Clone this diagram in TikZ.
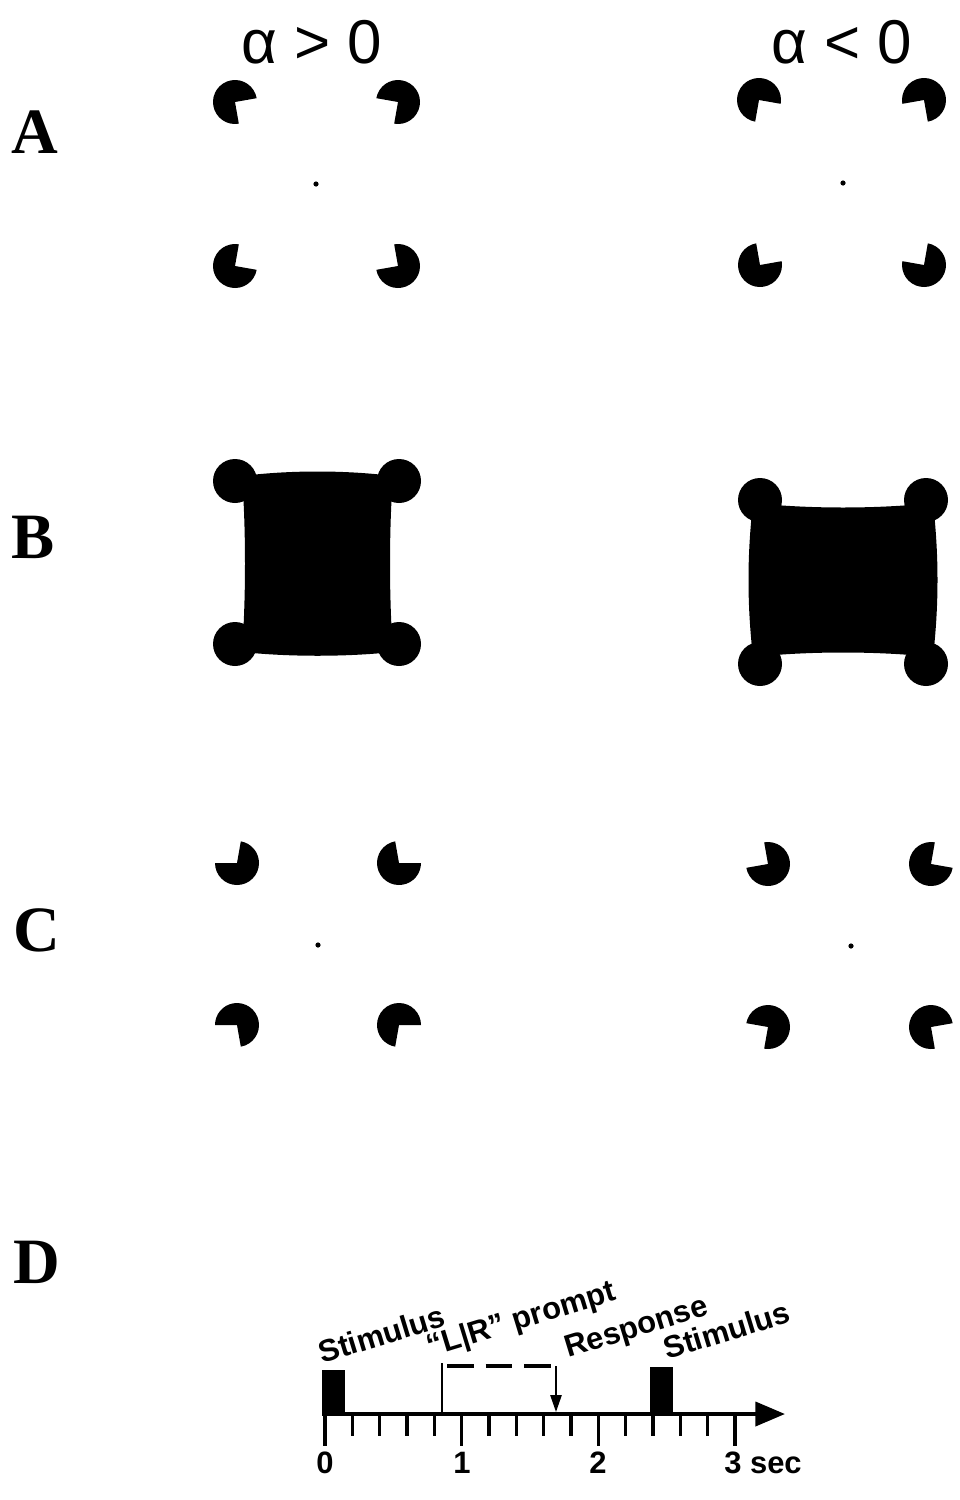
\documentclass[tikz,border=0pt]{standalone}
\usepackage{fontspec}
\setmainfont{Liberation Serif}
\newfontfamily\sansfont{Liberation Sans}
\usetikzlibrary{arrows.meta}
\tikzset{
panellabel/.style={
inner sep=0pt,
font=\fontsize{46}{46}\selectfont\bfseries
},
header/.style={
inner sep=0pt,
font=\sansfont\fontsize{44}{44}\selectfont
},
eventlabel/.style={
inner sep=0pt,
anchor=base west,
rotate=17,
font=\sansfont\bfseries\fontsize{22}{22}\selectfont
},
ticklabel/.style={
inner sep=0pt,
anchor=base,
font=\sansfont\bfseries\fontsize{22}{22}\selectfont
},
timeaxis/.style={
line width=2.8pt,
-{Triangle[length=21pt,width=17pt]}
},
ticks/.style={
line width=2.2pt
},
responsearrow/.style={
line width=1.2pt,
-{Triangle[length=12pt,width=8pt]}
}
}

\begin{document}
\begin{tikzpicture}[x=0.025cm,y=0.025cm]
\useasboundingbox (0,0) rectangle (960,-1500);

% row labels and headers
\node[panellabel](labA) at (35,-132){A};
\node[panellabel](labB) at (33,-537){B};
\node[panellabel](labC) at (37,-930){C};
\node[panellabel](labD) at (37,-1262){D};
\node[header](hpos) at (312,-42){α > 0};
\node[header](hneg) at (842,-42){α < 0};

% inducers: x/y/mouth start/mouth end
\foreach \x/\y/\a/\b in {
235/102/-80/10, 398/102/170/260, 235/266/-10/80, 398/266/100/190,
759/100/-100/-10, 924/100/190/280, 760/265/10/100, 924/265/80/170,
237/863/80/180, 399/863/0/100, 237/1025/180/280, 399/1025/260/360,
768/864/100/190, 931/864/-10/80, 768/1027/170/260, 931/1027/280/370}
{
\pgfmathsetmacro\e{\a+360}
\fill (\x,-\y) -- ++(\b:22) arc[start angle=\b, end angle=\e, radius=22] -- cycle;
}

% fixation points
\foreach \x/\y in {316/184,843/183,318/945,851/946}
\fill (\x,-\y) circle[radius=2.6];

% filled squares
\foreach \x/\y in {235/481,399/481,235/644,399/644,760/500,926/500,760/664,926/664}
\fill (\x,-\y) circle[radius=22];
\fill (242,-476) .. controls (290,-470) and (345,-470) .. (393,-476)
  .. controls (389,-530) and (389,-597) .. (393,-652)
  .. controls (345,-657) and (290,-657) .. (242,-652)
  .. controls (246,-597) and (246,-530) .. (242,-476) -- cycle;
\fill (753,-503) .. controls (810,-509) and (876,-509) .. (933,-503)
  .. controls (939,-555) and (939,-605) .. (933,-657)
  .. controls (876,-651) and (810,-651) .. (753,-657)
  .. controls (747,-605) and (747,-555) .. (753,-503) -- cycle;

% timeline
\coordinate (tstart) at (322,-1414);
\coordinate (tend) at (785,-1414);
\coordinate (prompttop) at (442,-1363);
\coordinate (promptbase) at (442,-1414);
\coordinate (dashstart) at (447,-1366);
\coordinate (dashend) at (552,-1366);
\coordinate (resptop) at (556,-1366);
\coordinate (respbase) at (556,-1412);

\fill (322,-1370) rectangle (345,-1414);
\fill (650,-1367) rectangle (673,-1414);
\draw[timeaxis](tstart)--(tend);
\foreach \i in {0,...,15}{
\pgfmathsetmacro\tx{325+27.33*\i}
\pgfmathsetmacro\tl{ifthenelse(mod(\i,5)==0,1446,1436)}
\draw[ticks](\tx,-1414)--(\tx,-\tl);
}
\draw[line width=1.3pt](prompttop)--(promptbase);
\draw[line width=2.6pt,dash pattern=on 19pt off 8.5pt](dashstart)--(dashend);
\draw[responsearrow](resptop)--(respbase);

\node[ticklabel](n0) at (325,-1473){0};
\node[ticklabel](n1) at (462,-1473){1};
\node[ticklabel](n2) at (598,-1473){2};
\node[ticklabel,anchor=base west](n3) at (724,-1473){3 sec};

\node[eventlabel](stim1) at (322,-1364){Stimulus};
\node[eventlabel](prompt) at (430,-1357){“L|R” prompt};
\node[eventlabel](resp) at (568,-1358){Response};
\node[eventlabel](stim2) at (667,-1360){Stimulus};
\end{tikzpicture}
\end{document}
